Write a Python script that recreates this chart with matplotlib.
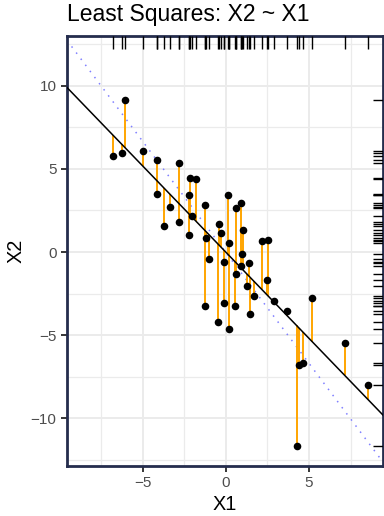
import matplotlib.pyplot as plt
import numpy as np

plt.rcParams['font.family'] = ['Liberation Sans', 'DejaVu Sans']

# observations
x1 = np.array([-6.79, -6.27, -6.07, -4.99, -4.15, -4.15, -3.74, -3.35, -2.81, -2.82,
               -2.15, -1.82, -2.22, -2.03, -2.22, -1.28, -1.18, -1.00, -0.41, -0.28,
               -0.09, 0.12, 0.16, -1.26, -0.47, -0.10, 0.17, 0.64, 0.93, 1.01,
               1.00, 0.92, 0.61, 0.54, 1.40, 1.26, 1.68, 1.48, 2.16, 2.55,
               2.46, 2.87, 3.70, 5.19, 4.39, 4.65, 7.15, 4.25, 8.52])
x2 = np.array([5.78, 5.98, 9.15, 6.10, 5.54, 3.51, 1.55, 2.69, 5.36, 1.79,
               4.43, 4.39, 3.45, 2.17, 1.04, 2.85, 0.84, -0.40, 1.70, 1.13,
               -0.59, 3.43, 0.57, -3.25, -4.20, -3.07, -4.66, 2.62, 2.93, 1.34,
               -0.15, -0.85, -1.31, -3.25, -0.65, -2.03, -2.62, -3.70, 0.65, 0.71,
               -1.70, -2.92, -3.55, -2.76, -6.77, -6.69, -5.46, -11.65, -8.02])

xticks = [-5, 0, 5]
yticks = [-10, -5, 0, 5, 10]

# least squares fit X2 ~ X1
slope, intercept = np.polyfit(x1, x2, 1)
fitted = intercept + slope * x1

# first principal component direction through the means
cov = np.cov(x1, x2)
evals, evecs = np.linalg.eigh(cov)
pc = evecs[:, np.argmax(evals)]
pc_slope = pc[1] / pc[0]
mx, my = x1.mean(), x2.mean()

fig = plt.figure(figsize=(3.84, 5.16), dpi=100)
ax = fig.add_axes([0.1745, 0.0969, 0.8225, 0.8333])

ax.set_xlim(-9.55, 9.44)
ax.set_ylim(-12.87, 12.99)
ax.set_xticks(xticks)
ax.set_yticks(yticks)
ax.set_xticks([-7.5, -2.5, 2.5, 7.5], minor=True)
ax.set_yticks([-12.5, -7.5, -2.5, 2.5, 7.5, 12.5], minor=True)
ax.grid(which='major', color='#EBEBEB', lw=1.4, zorder=0)
ax.grid(which='minor', color='#EBEBEB', lw=0.9, zorder=0)
ax.set_axisbelow(True)

ax.tick_params(which='minor', length=0)
ax.tick_params(which='major', length=4.5, width=1.1, color='black',
               labelcolor='#4D4D4D', labelsize=11, pad=3)

for s in ax.spines.values():
    s.set_color('#252d4d')
    s.set_linewidth(2)

ax.axline((mx, my), slope=pc_slope, color='#7f7fff', lw=1.1,
          ls=(0, (1, 4)), zorder=2)
ax.vlines(x1, fitted, x2, color='orange', lw=1.4, zorder=3)
ax.axline((0, intercept), slope=slope, color='black', lw=1.1, zorder=3)
ax.scatter(x1, x2, s=30, color='black', zorder=4, linewidths=0)

# rugs along the top and right edges
ax.vlines(x1, 0.97, 1, transform=ax.get_xaxis_transform(), color='black', lw=1.0, zorder=5)
ax.hlines(x2, 0.97, 1, transform=ax.get_yaxis_transform(), color='black', lw=1.0, zorder=5)

ax.set_xlabel('X1', fontsize=14.3, labelpad=3)
ax.set_ylabel('X2', fontsize=14.3, labelpad=4)
fig.text(0.1745, 1 - 20.7 / 516, 'Least Squares: X2 ~ X1', fontsize=16.5, va='baseline')

fig.savefig('out.png', dpi=100)
